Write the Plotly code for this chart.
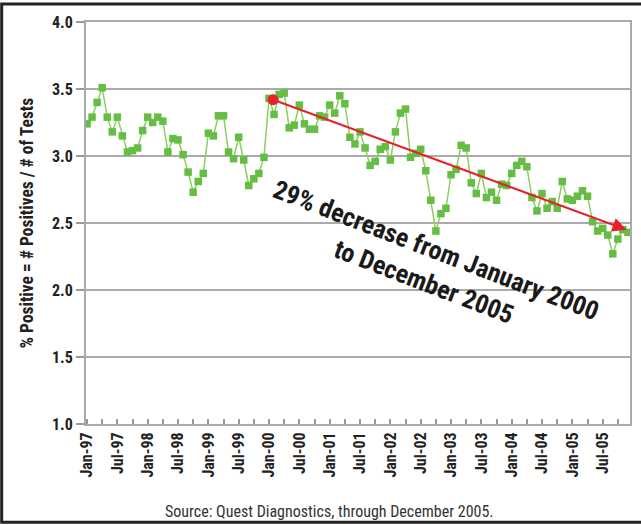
import plotly.graph_objects as go

# ---- data ----
months = ["Jan", "Feb", "Mar", "Apr", "May", "Jun", "Jul", "Aug", "Sep", "Oct", "Nov", "Dec"]
years = ["97", "98", "99", "00", "01", "02", "03", "04", "05"]
month_labels = [f"{m}-{y}" for y in years for m in months]
month_index = list(range(len(month_labels)))

pct_positive = [
    3.24, 3.29, 3.40, 3.51, 3.29, 3.18, 3.29, 3.15, 3.03, 3.04, 3.06, 3.19,   # 1997
    3.29, 3.25, 3.29, 3.26, 3.03, 3.13, 3.12, 3.01, 2.88, 2.73, 2.81, 2.87,   # 1998
    3.17, 3.15, 3.30, 3.30, 3.03, 2.98, 3.14, 2.97, 2.78, 2.83, 2.87, 2.99,   # 1999
    3.43, 3.31, 3.46, 3.47, 3.21, 3.23, 3.38, 3.24, 3.20, 3.20, 3.30, 3.29,   # 2000
    3.38, 3.32, 3.45, 3.39, 3.14, 3.09, 3.18, 3.06, 2.93, 2.96, 3.05, 3.07,   # 2001
    2.97, 3.18, 3.32, 3.35, 2.99, 3.02, 3.05, 2.89, 2.67, 2.44, 2.57, 2.61,   # 2002
    2.86, 2.90, 3.08, 3.06, 2.80, 2.72, 2.87, 2.69, 2.73, 2.67, 2.79, 2.78,   # 2003
    2.87, 2.93, 2.96, 2.92, 2.69, 2.59, 2.72, 2.61, 2.66, 2.61, 2.81, 2.68,   # 2004
    2.67, 2.70, 2.74, 2.70, 2.51, 2.44, 2.46, 2.41, 2.27, 2.38, 2.45, 2.43,   # 2005
]

trend_x = [36.8, 106.7]   # Jan-2000 -> Dec-2005
trend_y = [3.42, 2.45]

y_ticks = [1.0, 1.5, 2.0, 2.5, 3.0, 3.5, 4.0]
x_tick_idx = list(range(0, 108, 3))
x_tick_text = [month_labels[i] if i % 6 == 0 else "" for i in x_tick_idx]

annotation_text = "29% decrease from January 2000<br>to December 2005"
y_title = "% Positive = # Positives / # of Tests"
source_text = "Source: Quest Diagnostics, through December 2005."

# ---- figure ----
FONT = "Roboto Condensed, Arial Narrow, Roboto, sans-serif"
GREEN_LINE = "#8ccf62"
GREEN_MARK = "#66bd43"
RED = "#e8202a"
GRID = "#aaaaaa"

fig = go.Figure()
fig.add_trace(go.Scatter(
    x=month_index, y=pct_positive, mode="lines+markers",
    line=dict(color=GREEN_LINE, width=1.5),
    marker=dict(symbol="square", size=7.5, color=GREEN_MARK),
    showlegend=False, hoverinfo="skip",
))
fig.add_trace(go.Scatter(
    x=[trend_x[0]], y=[trend_y[0]], mode="markers",
    marker=dict(symbol="circle", size=11, color=RED),
    showlegend=False, hoverinfo="skip",
))

# arrow
fig.add_annotation(
    x=trend_x[1], y=trend_y[1], ax=trend_x[0], ay=trend_y[0],
    xref="x", yref="y", axref="x", ayref="y",
    text="", showarrow=True, arrowhead=2, arrowsize=1.4, arrowwidth=2, arrowcolor=RED,
)
# rotated label
fig.add_annotation(
    x=67.8, y=2.18, xref="x", yref="y",
    text=annotation_text, showarrow=False, textangle=21, align="center",
    font=dict(family=FONT, size=26, color="#1a1a1a", weight="bold"),
)
# source
fig.add_annotation(
    x=0.4485, y=-0.217, xref="paper", yref="paper", xanchor="center", yanchor="middle",
    text=source_text, showarrow=False,
    font=dict(family=FONT, size=16, color="#333333"),
)

# outer border (left, top, bottom)
fig.add_shape(type="rect", xref="paper", yref="paper",
              x0=-0.155, x1=1.08, y0=-0.2445, y1=1.0448,
              line=dict(color="#222222", width=3), layer="above")

fig.update_xaxes(
    range=[-0.2, 107.4], tickmode="array", tickvals=x_tick_idx, ticktext=x_tick_text,
    tickangle=-90, ticks="inside", ticklen=5, tickcolor="#999999", tickwidth=1.5,
    showline=True, linecolor=GRID, linewidth=2, mirror=True,
    showgrid=False, zeroline=False, automargin=False,
    tickfont=dict(family=FONT, size=16, color="#222222", weight="bold"),
)
fig.update_yaxes(
    range=[1.0, 4.0], tickmode="array", tickvals=y_ticks, tickformat=".1f",
    ticks="outside", ticklen=8, tickcolor="#999999", tickwidth=1.5,
    showline=True, linecolor=GRID, linewidth=2, mirror=True,
    showgrid=True, gridcolor=GRID, gridwidth=2, zeroline=False, automargin=False,
    tickfont=dict(family=FONT, size=16, color="#222222", weight="bold"),
    title=dict(text=y_title, standoff=14,
               font=dict(family=FONT, size=17.5, color="#222222", weight="bold")),
)

fig.update_layout(
    width=641, height=525,
    margin=dict(l=86, r=11, t=22, b=101, pad=0),
    paper_bgcolor="white", plot_bgcolor="white",
    font=dict(family=FONT),
)

fig.write_html("out.html", config={"displayModeBar": False},
               post_script="document.body.style.margin='0';document.body.style.overflow='hidden';")
